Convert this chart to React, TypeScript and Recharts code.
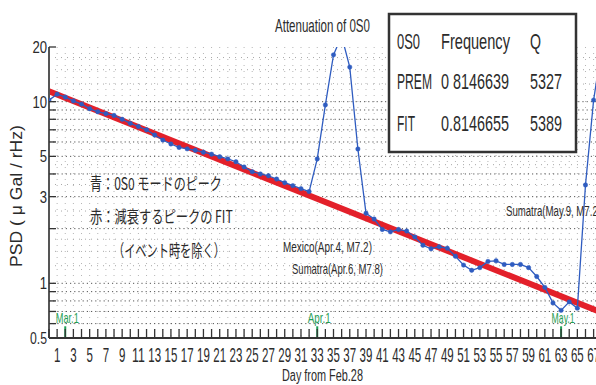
import { CartesianGrid, Line, LineChart, ReferenceLine, XAxis, YAxis } from "recharts";

const DAYS = [
  0, 1, 2, 3, 4, 5, 6, 7, 8, 9, 10, 11, 12, 13, 14, 15, 16, 17, 18, 19, 20, 21, 22, 23, 24, 25,
  26, 27, 28, 29, 30, 31, 32, 33, 34, 35, 36, 37, 38, 39, 40, 41, 42, 43, 44, 45, 46, 47, 48, 49,
  50, 51, 52, 53, 54, 55, 56, 57, 58, 59, 60, 61, 62, 63, 64, 65, 66, 67, 68,
];
// 0S0 peak (blue)
const PEAK = [
  10.2, 11.0, 10.6, 10.1, 9.7, 9.15, 8.8, 8.6, 8.4, 8.0, 7.6, 7.3, 7.0, 6.55, 6.15, 5.85, 5.6,
  5.5, 5.4, 5.27, 5.14, 4.98, 4.84, 4.67, 4.37, 4.12, 4.0, 3.91, 3.75, 3.58, 3.45, 3.32, 3.2, 4.84,
  9.6, 18.1, 23, 15.5, 5.49, 2.43, 2.26, 1.98, 1.92, 1.98, 1.94, 1.8, 1.62, 1.55, 1.59, 1.56, 1.41,
  1.26, 1.18, 1.22, 1.32, 1.33, 1.27, 1.27, 1.27, 1.22, 1.09, 0.95, 0.78, 0.71, 0.79, 0.73, 3.48,
  10.2, 20,
];
// decay fit (red)
const FIT_DAYS = [0, 68];
const FIT = [11.4, 0.69];

const X_TICKS = Array.from({ length: 71 }, (_, i) => i);
const Y_TICKS = [0.5, 0.6, 0.7, 0.8, 0.9, 1, 2, 3, 4, 5, 6, 7, 8, 9, 10, 20];
const Y_LABELS = [0.5, 1, 3, 5, 10, 20];
const GRID_MAJOR = [0.6, 0.7, 0.8, 0.9, 1, 2, 3, 4, 5, 6, 7, 8, 9, 10];
const GRID_MINOR = [1.25, 1.5, 1.75, 2.5, 3.5, 4.5, 12.5, 15, 17.5];

const MARKERS = [
  { day: 2, label: "Mar.1" },
  { day: 33, label: "Apr.1" },
  { day: 63, label: "May.1" },
];

const FONT = "'Liberation Sans', Arial, sans-serif";
const JP_FONT = "'Noto Sans CJK JP', 'Noto Sans CJK SC', sans-serif";
const BLUE = "#2f5cc0";
const RED = "#e3202a";
const GREEN = "#1f9e55";
const INK = "#2b2b2b";

const peakData = DAYS.map((d, i) => ({ day: d, psd: PEAK[i] }));
const fitData = FIT_DAYS.map((d, i) => ({ day: d, fit: FIT[i] }));

let ctx: CanvasRenderingContext2D | null = null;
function measure(text: string, size: number, font: string) {
  if (!ctx) ctx = document.createElement("canvas").getContext("2d");
  if (!ctx) return text.length * size * 0.55;
  ctx.font = `${size}px ${font}`;
  return ctx.measureText(text).width;
}

// condensed text: squeezed horizontally to width w
function Narrow(p: {
  x: number;
  y: number;
  w: number;
  size: number;
  text: string;
  anchor?: "start" | "middle" | "end";
  font?: string;
  fill?: string;
}) {
  const font = p.font ?? FONT;
  const sx = p.w / measure(p.text, p.size, font);
  return (
    <g transform={`translate(${p.x} ${p.y}) scale(${sx} 1)`}>
      <text
        x={0}
        y={0}
        textAnchor={p.anchor ?? "start"}
        fontSize={p.size}
        fill={p.fill ?? INK}
        fontFamily={font}
      >
        {p.text}
      </text>
    </g>
  );
}

const BottomTick = (props: any) => {
  const { x, y, payload } = props;
  const v = payload.value as number;
  const s = String(v);
  return (
    <g>
      <line x1={x} x2={x} y1={y} y2={y - 9} stroke="#333" strokeWidth={1.3} />
      {v % 2 === 1 && (
        <Narrow x={x} y={y + 24} w={s.length * 6.4} size={20} text={s} anchor="middle" />
      )}
    </g>
  );
};

const TopTick = (props: any) => {
  const { x, y } = props;
  return <line x1={x} x2={x} y1={y} y2={y + 6} stroke="#333" strokeWidth={1.2} />;
};

const LeftTick = (props: any) => {
  const { x, y, payload } = props;
  const v = payload.value as number;
  const s = String(v);
  return (
    <g>
      <line x1={x} x2={x + 7} y1={y} y2={y} stroke="#333" strokeWidth={1.3} />
      {Y_LABELS.includes(v) && (
        <Narrow
          x={x - 2}
          y={y + 6}
          w={s === "0.5" ? 17 : s.length * 7.3}
          size={17}
          text={s}
          anchor="end"
        />
      )}
    </g>
  );
};

const markerLabel = (text: string) => (props: any) => {
  const vb = props.viewBox || {};
  return (
    <Narrow
      x={(vb.x ?? 0) + 2}
      y={(vb.y ?? 0) - 3}
      w={23}
      size={15}
      text={text}
      anchor="middle"
      fill={GREEN}
    />
  );
};

export default function App() {
  return (
    <div
      style={{
        position: "fixed",
        top: 0,
        left: 0,
        width: 596,
        height: 385,
        overflow: "hidden",
        background: "#fff",
      }}
    >
      <LineChart width={630} height={385} margin={{ top: 47, right: 12, bottom: 17, left: 0 }}>
        <CartesianGrid
          horizontal={false}
          stroke="#b5b5b5"
          strokeDasharray="1 5"
          xAxisId="bottom"
          yAxisId="psd"
        />
        {GRID_MINOR.map((v) => (
          <ReferenceLine
            key={`mn${v}`}
            y={v}
            xAxisId="bottom"
            yAxisId="psd"
            stroke="#a8a8a8"
            strokeDasharray="1 5"
          />
        ))}
        {GRID_MAJOR.map((v) => (
          <ReferenceLine
            key={`mj${v}`}
            y={v}
            xAxisId="bottom"
            yAxisId="psd"
            stroke="#555"
            strokeDasharray="1.2 3"
          />
        ))}
        <XAxis
          xAxisId="bottom"
          dataKey="day"
          type="number"
          domain={[0, 70]}
          allowDataOverflow
          ticks={X_TICKS}
          interval={0}
          height={30}
          tickSize={0}
          tickMargin={0}
          tick={<BottomTick />}
          axisLine={{ stroke: "#333", strokeWidth: 2 }}
        />
        <XAxis
          xAxisId="top"
          orientation="top"
          dataKey="day"
          type="number"
          domain={[0, 70]}
          allowDataOverflow
          ticks={X_TICKS}
          interval={0}
          height={0}
          tickSize={0}
          tickMargin={0}
          tick={<TopTick />}
          axisLine={{ stroke: "#111", strokeWidth: 2 }}
        />
        <YAxis
          yAxisId="psd"
          scale="log"
          domain={[0.5, 20]}
          allowDataOverflow
          ticks={Y_TICKS}
          interval={0}
          width={49}
          tickSize={0}
          tickMargin={0}
          tick={<LeftTick />}
          axisLine={{ stroke: "#555", strokeWidth: 2 }}
        />
        {MARKERS.map((m) => (
          <ReferenceLine
            key={m.label}
            xAxisId="bottom"
            yAxisId="psd"
            segment={[
              { x: m.day, y: 0.5 },
              { x: m.day, y: 0.58 },
            ]}
            stroke={GREEN}
            strokeWidth={2}
            label={markerLabel(m.label)}
          />
        ))}
        <Line
          xAxisId="bottom"
          yAxisId="psd"
          data={fitData}
          dataKey="fit"
          type="linear"
          stroke={RED}
          strokeWidth={6}
          dot={false}
          isAnimationActive={false}
        />
        <Line
          xAxisId="bottom"
          yAxisId="psd"
          data={peakData}
          dataKey="psd"
          type="linear"
          stroke={BLUE}
          strokeWidth={1.3}
          dot={{ r: 2.2, fill: BLUE, stroke: BLUE, strokeWidth: 0.5 }}
          isAnimationActive={false}
        />
      </LineChart>
      <svg
        width={596}
        height={385}
        style={{ position: "absolute", top: 0, left: 0, pointerEvents: "none" }}
      >
        <Narrow x={275} y={32} w={95} size={18} text="Attenuation of 0S0" />
        <rect x={389} y={14} width={187} height={138} fill="#fff" stroke="#333" strokeWidth={2.5} />
        <Narrow x={397} y={49} w={23} size={22} text="0S0" />
        <Narrow x={441} y={49} w={69} size={22} text="Frequency" />
        <Narrow x={530} y={49} w={11} size={22} text="Q" />
        <Narrow x={397} y={89} w={35} size={22} text="PREM" />
        <Narrow x={441} y={89} w={68} size={22} text="0 8146639" />
        <Narrow x={530} y={89} w={32} size={22} text="5327" />
        <Narrow x={397} y={131} w={18} size={22} text="FIT" />
        <Narrow x={441} y={131} w={68} size={22} text="0.8146655" />
        <Narrow x={530} y={131} w={32} size={22} text="5389" />
        <g transform="translate(22 267) rotate(-90)">
          <Narrow x={0} y={0} w={142} size={16} text="PSD ( μ Gal / rHz)" />
        </g>
        <Narrow x={282} y={381} w={81} size={16} text="Day from Feb.28" />
        <Narrow x={90} y={190} w={132} size={17} font={JP_FONT} text="青：0S0 モードのピーク" />
        <Narrow x={90} y={223} w={143} size={17} font={JP_FONT} text="赤：減衰するピークの FIT" />
        <Narrow x={113} y={257} w={112} size={17} font={JP_FONT} text="（イベント時を除く）" />
        <Narrow x={283} y={252} w={89} size={15} text="Mexico(Apr.4, M7.2)" />
        <Narrow x={292} y={274} w={91} size={15} text="Sumatra(Apr.6, M7.8)" />
        <Narrow x={506} y={216} w={95} size={15} text="Sumatra(May.9, M7.2)" />
      </svg>
    </div>
  );
}
